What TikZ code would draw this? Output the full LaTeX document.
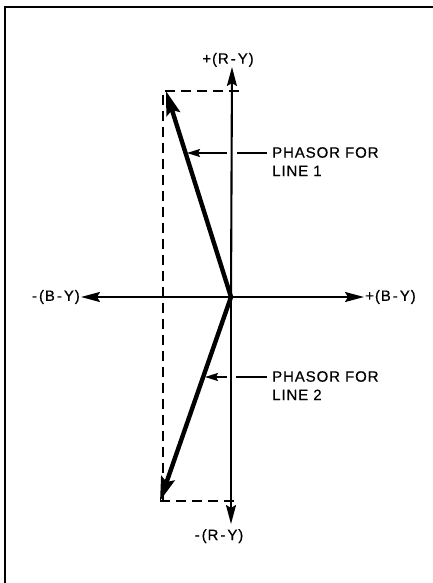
\documentclass[tikz,border=0pt]{standalone}
\usepackage{fontspec}
\newfontfamily\lbl[LetterSpace=6,FakeBold=0.6]{Liberation Sans}
\usetikzlibrary{arrows.meta}
\begin{document}
\begin{tikzpicture}[x=1pt,y=-1pt,
  axis/.style={line width=2.1pt},
  axhead/.style={-{Stealth[length=19pt,width=10pt,inset=3pt]}},
  phasor/.style={line width=4.4pt,-{Stealth[length=24pt,width=14pt,inset=4pt]}},
  guide/.style={line width=2.1pt,dash pattern=on 10pt off 6pt},
  leader/.style={line width=1.8pt},
  leadhead/.style={-{Stealth[length=13pt,width=8pt,inset=2pt]}},
  lab/.style={font={\lbl\fontsize{15}{18.4}\selectfont},inner sep=0pt}]
\useasboundingbox (0,0) rectangle (433,583);
% frame (top and left only)
\draw[line width=2.4pt] (5,583) -- (5,7) -- (433,7);
% key points
\coordinate (O) at (231,297);
\coordinate (RYp) at (232,67);
\coordinate (RYm) at (231,524);
\coordinate (BYm) at (81,297);
\coordinate (BYp) at (364,297);
\coordinate (P1) at (166,91);
\coordinate (P2) at (160,501);
% dashed completion lines
\coordinate (D1) at (163,91);
\coordinate (D1e) at (239,91);
\coordinate (D2) at (163,501);
\coordinate (D2e) at (237,501);
\draw[guide] (D1e) -- (D1) -- (D2);
\draw[guide] (P2) -- (D2e);
% axes
\draw[axis,axhead] (O) -- (RYp);
\draw[axis,axhead] (O) -- (RYm);
\draw[axis,axhead] (O) -- (BYm);
\draw[axis,axhead] (O) -- (BYp);
% phasors
\draw[phasor] (O) -- (P1);
\draw[phasor] (O) -- (P2);
% axis labels
\node[lab,anchor=south] (lRYp) at (228,67) {+\kern1pt(R\kern2pt-\kern2pt Y)};
\node[lab,anchor=north] (lRYm) at (219,529) {-\kern2pt(R\kern2pt-\kern2pt Y)};
\node[lab,anchor=east] (lBYm) at (80,297) {-\kern2pt(B\kern2pt-\kern2pt Y)};
\node[lab,anchor=west] (lBYp) at (365,297) {+\kern1pt(B\kern2pt-\kern2pt Y)};
% phasor labels
\node[lab,anchor=north west,align=left] (t1) at (272,147) {PHASOR FOR\\LINE 1};
\node[lab,anchor=north west,align=left] (t2) at (272,371) {PHASOR FOR\\LINE 2};
% leaders
\coordinate (a1) at (267,153); \coordinate (b1) at (237,153);
\coordinate (c1) at (227,153); \coordinate (d1) at (187,153);
\coordinate (a2) at (267,377); \coordinate (b2) at (236,377);
\coordinate (c2) at (227,377); \coordinate (d2) at (205,377);
\draw[leader] (a1) -- (b1);
\draw[leader,leadhead] (c1) -- (d1);
\draw[leader] (a2) -- (b2);
\draw[leader,leadhead] (c2) -- (d2);
\end{tikzpicture}
\end{document}
